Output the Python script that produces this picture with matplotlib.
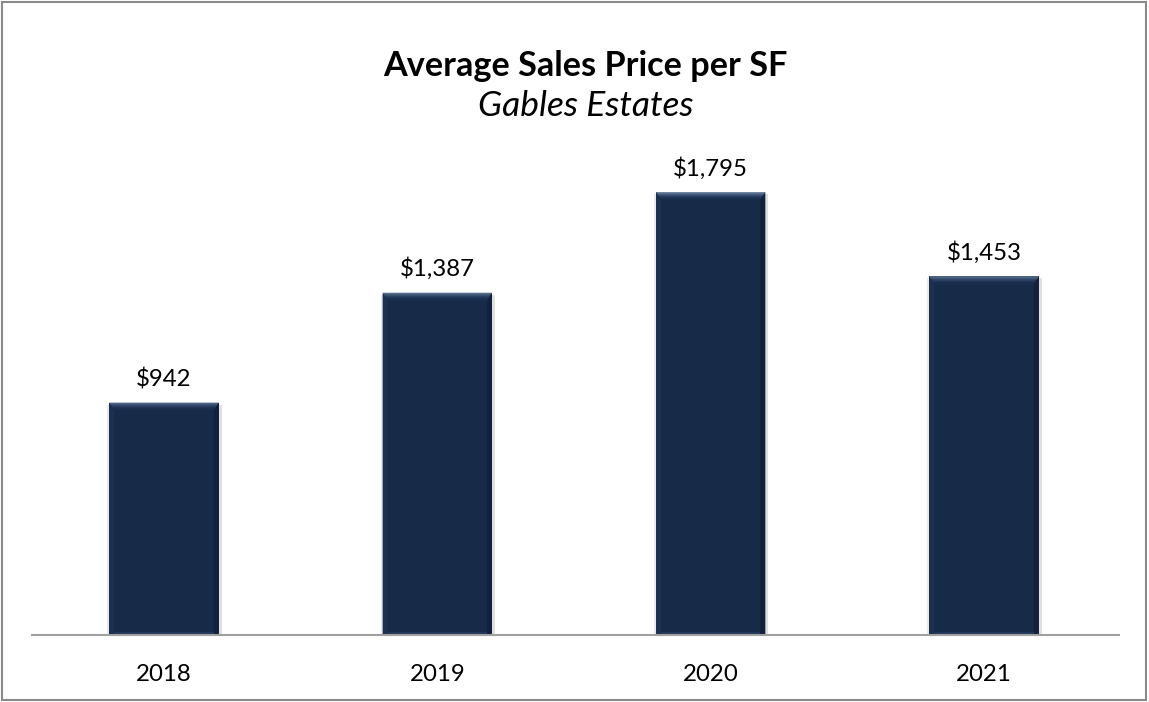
import matplotlib.pyplot as plt
from matplotlib.patches import Polygon, Rectangle

years = ["2018", "2019", "2020", "2021"]
prices = [942, 1387, 1795, 1453]
labels = ["$942", "$1,387", "$1,795", "$1,453"]

plt.rcParams['font.family'] = ['Lato', 'DejaVu Sans']

fig = plt.figure(figsize=(11.49, 7.02), dpi=100)
# axes span chosen so bar centres sit where they are in the reference
ax = fig.add_axes([27.3/1149, 67/702, 1093.4/1149, 493.6/702])

bar_w = 0.4
bars = ax.bar(range(len(years)), prices, width=bar_w, color="#172a48", zorder=2)
ax.set_xlim(-0.5, len(years) - 0.5)
ax.set_ylim(0, 2000)

# bevel look on each bar (sizes in pixels converted to data units)
px_x = len(years) / 1093.4
px_y = 2000 / 493.6
tops = ["#7287a4", "#5a7092", "#465d80", "#364d70", "#2a4064", "#223858", "#1d3151", "#1a2d4c"]
for b in bars:
    x0, w, h = b.get_x(), b.get_width(), b.get_height()
    x1 = x0 + w
    # soft shadow on both sides
    ax.add_patch(Rectangle((x1, 0), 3 * px_x, h - 2 * px_y, color="#d4d4d4", alpha=0.7, zorder=1, lw=0))
    ax.add_patch(Rectangle((x0 - 2 * px_x, 0), 2 * px_x, h - 2 * px_y, color="#e2e2e2", alpha=0.7, zorder=1, lw=0))
    # side bevels
    d = 5 * px_x
    ax.add_patch(Polygon([(x0, 0), (x0, h), (x0 + d, h - 8 * px_y), (x0 + d, 0)],
                         closed=True, color="#1c3050", lw=0, zorder=3))
    ax.add_patch(Polygon([(x1, 0), (x1, h), (x1 - d, h - 8 * px_y), (x1 - d, 0)],
                         closed=True, color="#12223c", lw=0, zorder=3))
    # top bevel as stacked bands
    n = len(tops)
    for k, c in enumerate(tops):
        ya, yb = h - k * px_y, h - (k + 1) * px_y
        xa, xb = k * 8 / n * px_x, (k + 1) * 8 / n * px_x
        ax.add_patch(Polygon([(x0 + xa * 0.7, ya), (x1 - xa * 0.7, ya), (x1 - xb * 0.7, yb), (x0 + xb * 0.7, yb)],
                             closed=True, color=c, lw=0, zorder=3))
    # slight lighter band at bottom
    ax.add_patch(Rectangle((x0 + d, 0), w - 2 * d, 3 * px_y, color="#22385a", lw=0, zorder=3))

for i, (v, t) in enumerate(zip(prices, labels)):
    ax.annotate(t, (i, v), xytext=(0, 9), textcoords="offset points",
                ha="center", va="bottom", fontsize=17.3, color="black")

ax.set_xticks(range(len(years)))
ax.set_xticklabels(years, fontsize=17.3)
ax.tick_params(axis="x", length=0, pad=21)
ax.set_yticks([])
for s in ["top", "left", "right"]:
    ax.spines[s].set_visible(False)
ax.spines["bottom"].set_color("#a0a0a0")
ax.spines["bottom"].set_linewidth(1.5)
ax.spines["bottom"].set_zorder(4)
ax.spines["bottom"].set_bounds(-0.483, 3.494)

fig.text(585/1149, 1 - 66/702, "Average Sales Price per SF", ha="center", va="center",
         fontsize=24.7, fontweight="bold")
fig.text(586/1149, 1 - 106/702, "Gables Estates", ha="center", va="center",
         fontsize=25.5, fontstyle="italic")

fig.patches.append(Rectangle((0.002, 0.003), 0.995, 0.994, transform=fig.transFigure,
                             fill=False, edgecolor="#8a8a8a", lw=1.5))

fig.savefig("out.png", dpi=100)
